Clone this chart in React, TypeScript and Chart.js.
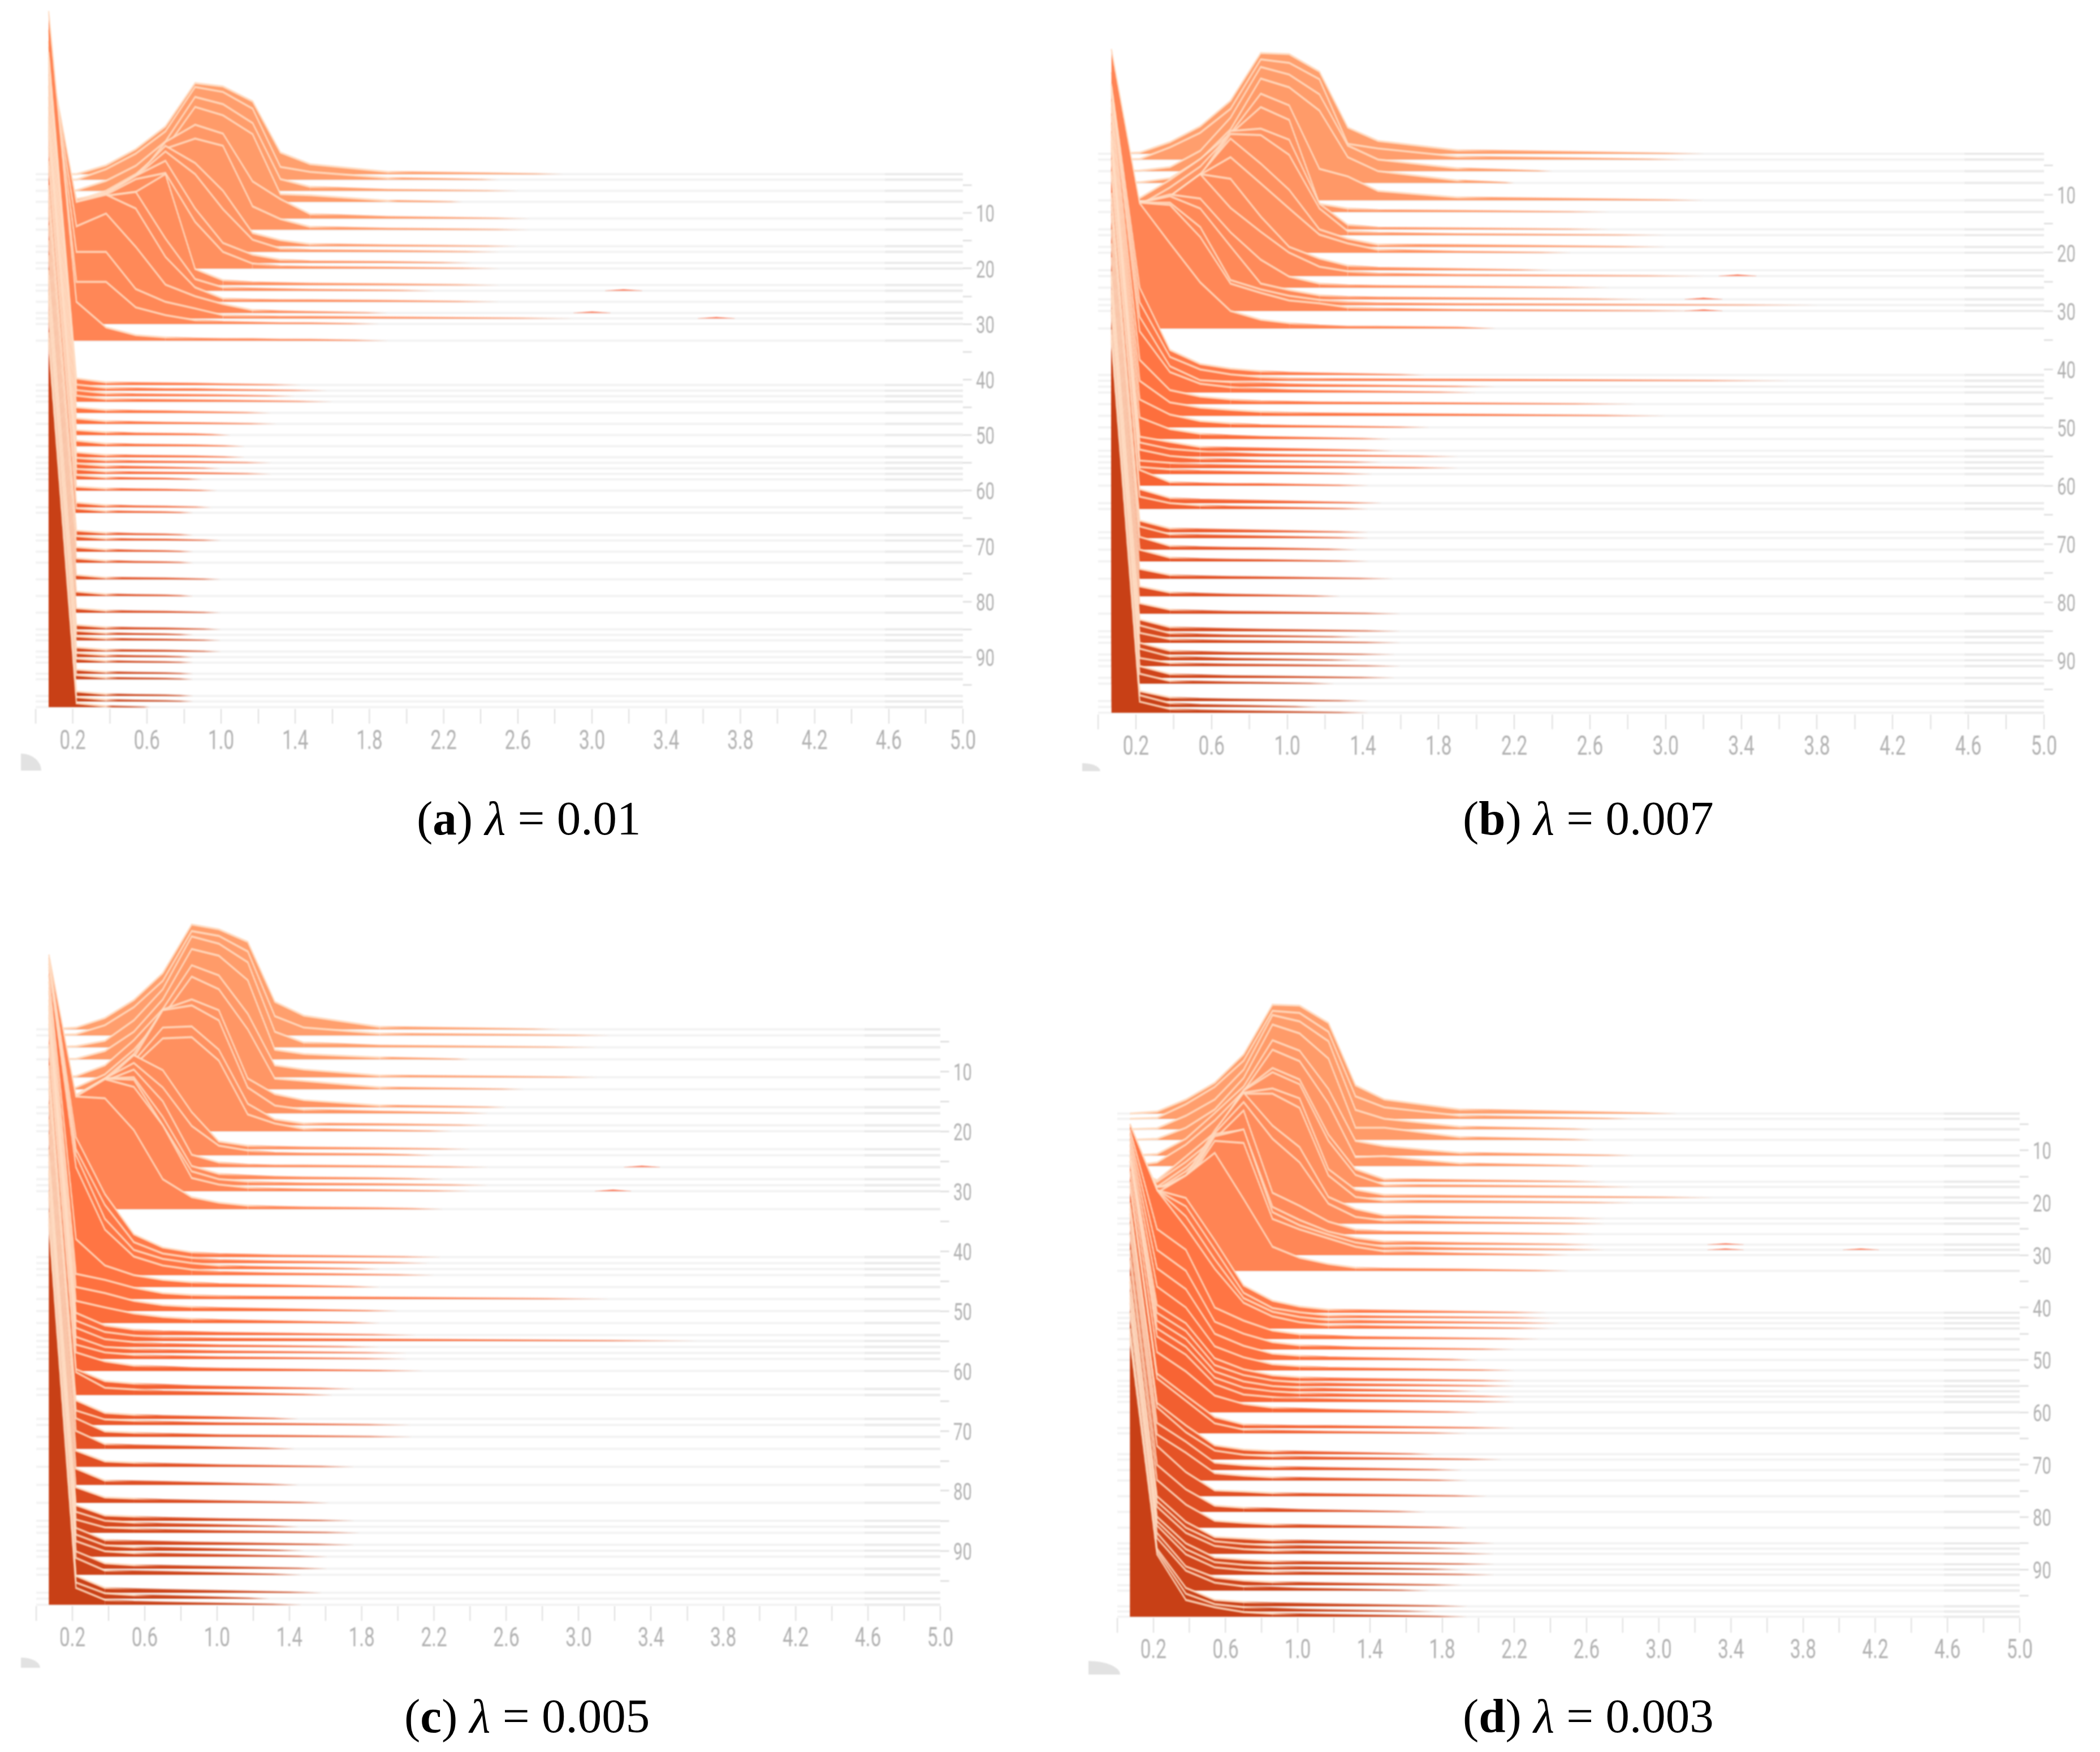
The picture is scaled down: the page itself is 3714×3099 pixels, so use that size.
import React, { useEffect, useRef } from "react";
import { Chart, registerables } from "chart.js";

Chart.register(...registerables);

// Histogram steps that hold a ridge (shared by the four panels)
const STEPS = [3,4,6,8,11,13,16,17,19,20,23,24,26,28,29,30,33,41,42,43,44,46,48,50,52,54,55,56,57,58,60,63,64,68,69,71,73,76,79,82,85,86,87,89,90,91,93,94,97,98,99];
// Histogram bin positions (weight value)
const BINS = [0.07,0.22,0.38,0.54,0.70,0.86,1.01,1.17,1.32,1.48,1.9];
const STEP_TICKS = [5,10,15,20,25,30,35,40,45,50,55,60,65,70,75,80,85,90,95];

// ---- panel (a) lambda = 0.01 : ridge heights per bin, and where each tail ends
const HEIGHTS_A = [
[0,0,1.6,4.5,8.6,16.4,15.8,13.1,3.9,1.8,.4],[0,0,1.9,4.7,8.7,16.7,15.8,12.8,2.3,1.4,.3],[0,.1,1.8,4.5,8.9,16.9,15.6,12.2,2.1,.7,.2],[0,.2,2,5,9.6,17.1,15.6,12.2,1.4,1.2,.2],
[0,.5,2.8,7,13.8,16.9,15.3,6.7,3.5,.8,.3],[0,1,3.8,9,14.6,16.4,15.1,4.2,1.9,.5,.2],[20,8.4,9.7,12.7,18.1,15,10,2.4,1.1,.4,.2],[22,9.4,10.4,13.6,18.1,14,7.7,2.2,.6,.3,.2],
[30,11.5,12.5,15.7,18.4,9.8,3.6,1.5,.6,.3,.2],[33,12.5,13.3,16.1,17.2,8.4,3,.9,.4,.3,.2],[38,15,16,16.8,20,2.9,.9,.5,.4,.3,.2],[42,16,17.1,17.8,9.4,2.1,.6,.4,.3,.2,.1],
[45,18,19.3,16.8,8.1,2.6,.6,.4,.3,.3,.2],[48,15.6,17.9,11.9,5.1,3,1.6,.5,.3,.2,.1],[50,12,12,5.3,3,1.8,.6,.4,.3,.3,.2],[53,7.6,7.6,3,1.6,.7,.4,.3,.2,.2,.1],[59.4,7,2.4,1,.6,.4,.3,.3,.2,.2,.1],
[60,1.2,.5,.4,.35,.3,.2],[60.1,1.1,.5,.4,.3,.3,.2],[60.2,1.1,.5,.35,.3,.25,.2],[60.3,1.1,.5,.4,.35,.3,.25],[60.6,1,.5,.35,.3,.2],[60.8,1,.5,.35,.25,.2],[61,.9,.5,.3,.25,.2],[61.2,1,.45,.3,.25,.2],
[61.4,.9,.4,.3,.25,.2],[61.6,.9,.45,.3,.25,.2],[61.7,.9,.4,.3,.2],[61.8,.9,.4,.3,.25,.2],[61.9,.8,.35,.25,.2],[62,.7,.35,.25,.2],[62.4,.85,.35,.2,.15],[62.5,.8,.3,.2,.15],
[63,.8,.35,.2,.15],[63.1,.8,.35,.25,.2],[63.3,.8,.35,.2,.15],[63.5,.8,.35,.2,.15],[63.8,.8,.3,.25,.2],[64.1,.8,.3,.2,.15],[64.4,.8,.35,.25,.2],[64.7,.8,.35,.25,.2],[64.8,.75,.3,.2,.15],[64.9,.75,.35,.25,.2],
[65,.75,.3,.25,.2],[65.1,.75,.3,.2,.15],[65.2,.75,.3,.2,.15],[65.3,.75,.3,.2,.15],[65.4,.75,.3,.2,.15],[65.5,.8,.3,.2,.15],[65.5,.8,.3,.2,.15],[65.6,.7,.15]
];
const ENDS_A = [2.84,2.5,2.6,2.3,2.66,2.66,2.6,2.5,2.35,2.5,2.5,2.15,2.5,1.9,2.9,1.85,1.9,1.43,1.57,1.4,1.6,1.27,1.3,1.05,1.13,1.13,1.27,1,1.27,.9,.98,.95,.85,.85,1,.85,.85,1,.85,1,1,.85,1,1,.85,.85,.85,.85,.85,.85,.62];
const BUMPS_A = [[24,3.17],[28,3],[29,3.67]];

// ---- panel (b) lambda = 0.007
const HEIGHTS_B = [
[0,.2,2,4.7,9.1,17.3,17.1,14.1,4.5,2.2,.6],[0,.1,2.1,4.6,8.7,17.2,16.6,13.8,2.7,1.9,.5],[0,.1,.7,3.5,9.2,17.9,16.6,13.2,4.4,2,.5],[0,.1,.8,4,9.2,17.9,16.4,12.4,4.4,2,.4],
[0,.4,3.5,7.1,11.5,18.3,16.3,5.4,4.1,1.6,.5],[0,1.2,4.2,7.8,13.4,18,15.8,1.4,.6,.3,.2],[10,4,5.6,9.2,16.9,17.3,15.4,4.4,.8,.3,.2],[12,5,6,9.8,17.4,17.2,13.8,4.6,.7,.4,.2],
[15,7.2,8.6,12.5,18.6,14.3,9.8,3,1.4,.4,.3],[18,8.2,8.9,13.4,16.4,11.9,7.6,3.1,1.6,.5,.2],[22,11.4,12.7,16.5,15.7,9.2,4,2,.8,.4,.2],[25,12.6,13.7,17.5,11.7,7.6,4,1.6,.8,.4,.2],
[30,14.6,16,15.3,9.5,4.8,1.9,.7,.4,.3,.2],[35,16.6,17.7,15.6,9.1,2.7,1.6,.7,.4,.3,.2],[38,17.6,17.6,13.4,4.3,2.7,1.6,.9,.5,.3,.2],[41,18.6,18.2,12.7,4.7,3.1,1.8,1.3,.6,.4,.2],[48,21.5,14.6,7.9,3,1.5,.9,.5,.3,.3,.2],
[50,15,4.3,1.9,1.1,.65,.4,.3],[50.5,13.5,4.1,1.95,1.1,.65,.4,.3],[51,12,3.5,1.1,.8,.6,.4,.3],[51.5,10.5,3.5,1.5,.9,.6,.4,.3],[52,7.6,2.4,1.3,.8,.5,.4,.3],[53,6,2.3,1.4,1,.7,.5,.4],[53.5,4.8,2.2,1.1,.7,.4,.3],[54,3.7,1.7,.9,.6,.4,.3],
[54.5,2.4,1.5,.65,.5,.4,.3],[55,2.4,1.3,.9,.6,.4,.3],[55.2,2.2,1.1,.65,.5,.3],[55.5,1.3,.9,.6,.5,.4],[55.7,1.2,.8,.5,.4,.3],[56,2.7,.6,.4,.3,.3],[57,2.4,.9,.6,.5,.4],[57.3,2.1,1,.6,.4,.3],
[58.3,2,.65,.5,.4,.3],[58.5,2,.65,.5,.4,.3],[59,2.2,.65,.45,.35,.3],[59.4,2,.65,.4,.3,.25],[60,1.7,.65,.45,.35,.3],[60.6,1.7,.65,.45,.3],[61.2,1.8,.7,.5,.35,.3],[61.8,2,.7,.5,.4,.3],[62,2,.65,.45,.3],[62.2,1.7,.65,.45,.35,.3],
[62.6,2,.65,.45,.3,.25],[62.8,2,.65,.45,.3],[63,1.4,.55,.4,.3,.25],[63.3,2,.65,.45,.3,.25],[63.4,1.7,.45,.35,.25],[63.8,1.7,.65,.4,.3],[63.9,2,.65,.35,.25],[64,1.9,.65,.4,.3]
];
const ENDS_B = [3.2,3.1,2.4,2.2,3.2,2.7,2.7,3,3,2.5,2.4,3.2,2.7,2.9,3.8,3.2,2.1,1.73,3.65,2.1,2,2.84,3,1.75,1.55,1.56,1.9,1.5,1.9,1.45,1.43,1.5,1.43,1.43,1.43,1.37,1.43,1.56,1.28,1.6,1.6,1.39,1.6,1.57,1.39,1.6,1.57,1.25,1.43,1.16,1.43];
const BUMPS_B = [[24,3.38],[28,3.2],[30,3.2]];

// ---- panel (c) lambda = 0.005
const HEIGHTS_C = [
[0,.3,1.9,4.9,9.4,17.5,16.7,14.6,4.6,2.3,.4],[0,.2,1.7,4.7,9.1,17.4,16.6,14,3.2,1.3,.3],[0,.2,1.1,4.5,9.7,18.5,17.3,14.2,2.6,.8,.3],[0,.1,1.4,4.6,10,18.4,17.3,13.2,1.6,.9,.3],
[0,.2,2,6.2,11.4,18.7,17,10.6,2,1.3,.3],[0,.3,2.5,6.6,12.2,18.8,16.7,10,1.8,1.4,.3],[15,2,4.8,8.9,16.3,18,16.2,4.8,2.2,1.2,.3],[18,2.8,5.4,9.3,17.2,18,15.5,4.3,1.3,.6,.3],
[22,4.7,7,10.7,16.3,16.5,12.6,3.6,1,.3,.2],[24,5.8,7.6,11,15.5,15.7,11.8,2.8,1.3,.4,.2],[28,9,11.4,15.7,13.2,6.2,1.3,.6,.4,.3,.2],[30,10,12.8,15.4,11.3,4.9,1.6,.8,.4,.3,.2],
[32,11.8,14.4,16.3,11,2.1,.8,.4,.3,.3,.2],[35,13.8,16.8,17,10.4,2.2,.9,.6,.4,.3,.2],[37,14.8,17.8,17.6,10,2.3,1,.6,.4,.3,.2],[39,15.8,18.7,17.4,11,2.2,1.1,.6,.4,.3,.2],[42.5,18.8,18.5,13.2,5,2,1.1,.6,.4,.3,.2],
[50,20,10.5,3.8,1.6,.8,.5,.4,.3],[50.5,19,9.7,3.5,1.6,.9,.5,.4,.3],[51,19,8.4,3.2,1.7,1,.6,.4,.3],[51.5,18,7.6,3.1,1.6,.9,.5,.4,.3],[52,8,3.6,2,1.2,.8,.5,.4],[53,4.2,3.2,1.9,1,.7,.5,.4],[53.5,4,3,1.7,1,.7,.5],[54,3.7,2.6,1.6,1,.7,.5],
[55,3.7,1.6,.9,.6,.5,.4],[55.5,3.4,1.5,.9,.6,.5,.4],[55.5,3.2,1.3,.8,.5,.4,.3],[56,2.7,1,.7,.5,.4,.3],[56,2.4,1.1,.7,.5,.4,.3],[57,3.1,1.6,.9,.7,.5,.4],[57.5,3.3,1.3,.9,.7,.5,.4],[58,3.8,1.2,.9,.6,.5],
[59,3.1,1,.7,.5,.4,.3],[59,2.4,.9,.7,.5,.4,.3],[59.5,3.1,.9,.7,.5,.4,.3],[60,3,.8,.6,.5,.4],[60.5,2.7,.9,.7,.5,.4,.3],[61,2.7,.7,.6,.5,.4],[61.5,2.6,.9,.7,.5,.4,.3],[62,2.6,.9,.7,.5,.4,.3],[62,2.5,1,.7,.5,.4],[62,2.2,.9,.7,.5,.4,.3],
[62.5,2.8,.8,.6,.5,.4],[63,2.7,.9,.6,.5,.4],[63,2.6,.9,.6,.5,.4],[63,2.9,.9,.6,.5,.4],[63,2.8,.7,.6,.5,.4],[63.5,2.8,.8,.6,.5,.4],[63.5,2.7,.9,.6,.5],[63.6,2.8,.8,.5,.4,.3]
];
const ENDS_C = [2.9,3.17,3.1,2.4,3.1,2.7,2.6,2.5,2.5,2.3,2.4,2.2,2.5,2.25,2.5,2.4,2.25,2.24,2.17,1.9,2.2,1.9,3.17,2,1.9,2.1,3.65,1.9,2.05,2.05,2.14,1.76,1.64,1.45,2.07,2.08,1.43,1.76,1.45,1.62,1.76,1.45,1.79,1.76,1.48,1.61,1.61,1.47,1.58,1.29,1.47];
const BUMPS_C = [[26,3.35],[30,3.19]];

// ---- panel (d) lambda = 0.003
const HEIGHTS_D = [
[0,.4,2.7,5.9,11.3,20.8,20.6,17.3,5.4,2.7,.8],[0,.2,2.8,6.1,11.1,20.6,20.2,16.6,4.3,2.2,.6],[0,.2,2.6,5.7,11.4,21.8,20.6,16.8,3.7,2,.5],[0,.2,2.3,5.8,11.8,22,20.3,15.5,2.3,2.3,.5],
[0,.3,3.2,8.1,13.2,22,20,12.7,2.8,1.8,.5],[0,.7,4.1,8.7,14.3,22.2,20,11.9,1.7,1.9,.5],[2.5,.3,4.8,9.4,17.5,21.7,19.5,9,2.4,.5,.3],[3,1,4.8,9.3,18.4,21.9,19.6,8.8,2.3,.4,.3],
[4,2,5.8,10.8,20,20.8,18.9,5.4,1.5,.5,.3],[5,2.5,6,11.3,20.8,20.8,18.1,5.2,1.1,.4,.3],[9,5.5,8.2,16.8,24,17.7,13.6,4.1,1.8,.6,.3],[11,6.5,8.7,17.3,23.2,16.2,11.7,3.8,1.3,.6,.3],
[15,8.7,10.4,18.2,23.6,7.9,5.4,2.4,.9,.5,.3],[20,10.8,12,21.1,21.9,7.2,4.7,2.5,1.3,.6,.3],[22,12,12.6,21.7,23,7.2,4.7,2.9,1.4,.6,.3],[24,13,13.5,21.8,21.4,6.9,4.9,3.2,1.6,.7,.3],[28,14.9,18.2,22.5,13.7,4.6,2.5,1.3,.6,.4,.3],
[36,23.4,21.9,13.8,5.2,2.3,1.2,.6,.5,.4],[37,24.4,21.3,13.1,4.8,1.9,1.1,.5,.4,.3],[38,25.4,20.4,12.2,4.8,2.2,1.2,.6,.5,.4],[39,26.4,19.3,11.4,4.9,2.3,1.2,.6,.5,.4],[40,21,17,6,3.5,1.6,.9,.6,.4],[41,19,15,5.3,3,1.4,.8,.6,.4],[42,17.5,13.5,5,2.7,1.2,.8,.5,.4],[43,16,12,4.6,2.5,1.2,.8,.5,.4],
[44,14.5,11,4.3,2.2,1.1,.7,.5,.4],[44,14,10.5,4,2.1,1.1,.7,.5,.4],[45,13.5,10,3.8,1.9,1,.7,.5,.4],[45,13,9.5,3.6,1.7,1,.7,.5,.4],[46,12.5,9,3.4,1.4,.9,.6,.5,.4],[46,11.5,7.8,3.2,1.6,.9,.7,.5,.4],[47,10.4,6.2,2.1,.7,.5,.4,.4],[47,10.5,6.2,1.9,.7,.5,.4,.3],
[48,9.8,5.5,1.7,.9,.6,.5,.4],[48,10,5.2,1.7,.9,.6,.5,.4],[49,9,5.4,1.4,.9,.6,.5,.4],[49,8.8,5.3,1.4,.9,.6,.5,.4],[50,9.6,4.6,1.1,.9,.6,.5,.4],[50,9,4.3,1.2,.8,.6,.4,.3],[51,9.1,4.4,1.3,.9,.6,.5,.4],[51,9,4.1,1.2,.9,.6,.5,.4],[51,9,4,1.4,.9,.6,.5,.4],[52,9,4,1.5,.9,.6,.5,.4],
[52,9.1,4,1.3,.9,.6,.5,.4],[52,9.2,3.9,1.4,.9,.6,.5,.4],[52,9.4,3.9,1.4,.9,.6,.5,.4],[52,10,3.6,1.5,.9,.6,.5,.4],[53,10,3.8,1.5,.8,.6,.4,.3],[53,11,3.5,1.2,.8,.6,.5,.4],[53,11.5,3.4,1.4,.8,.6,.4,.3],[53,11.9,3.2,1.8,.9,.6,.5,.4]
];
const ENDS_D = [3.1,2.86,2.64,2.64,2.86,2.64,2.7,2.86,3.3,2.86,2.7,2.7,2.64,2.64,2.7,2.5,2.5,2.38,2.4,2.45,2.4,2.34,2.2,2,2.2,2.2,2.2,2,2.2,2.2,2,2.2,1.94,1.76,2.13,1.91,1.94,2.05,1.71,1.94,2.09,1.91,2.09,2.09,1.91,2.09,1.91,1.73,1.94,1.76,1.94];
const BUMPS_D = [[28,3.37],[29,3.37],[29,4.12]];

const LAMBDA_LABELS = ["0.01", "0.007", "0.005", "0.003"];
const PANEL_KEYS = ["a", "b", "c", "d"];

// colour ramp of the ridges, by step
const RAMP_STEPS = [0, 33, 45, 60, 75, 99];
const RAMP_RGB = [[255,162,112],[255,132,84],[255,116,66],[248,100,52],[226,80,36],[200,64,22]];
function stepColor(s: number, alpha = 1) {
  let i = 0;
  while (i < RAMP_STEPS.length - 2 && s > RAMP_STEPS[i + 1]) i++;
  const t = (s - RAMP_STEPS[i]) / (RAMP_STEPS[i + 1] - RAMP_STEPS[i]);
  const c = RAMP_RGB[i].map((v, k) => Math.round(v + (RAMP_RGB[i + 1][k] - v) * t));
  return `rgba(${c[0]},${c[1]},${c[2]},${alpha})`;
}

const TICK_FONT = "Roboto, sans-serif";
const SQUEEZE = 0.68; // the tick text and marks of the reference are horizontally condensed
const PALE = "rgba(255,222,198,0.8)";

function buildDatasets(heights: number[][], ends: number[], bumps: number[][]) {
  const sets: any[] = [];
  const grey: any[] = [];
  const greyRight: any[] = [];
  STEPS.forEach((s) => {
    grey.push({ x: 0, y: s }, { x: 5, y: s }, { x: 5, y: null });
    greyRight.push({ x: 4.58, y: s }, { x: 5, y: s }, { x: 5, y: null });
  });
  sets.push({ data: grey, borderColor: "#f3f3f3", borderWidth: 4, pointRadius: 0, fill: false, order: 3000, spanGaps: false });
  sets.push({ data: greyRight, borderColor: "#ebebeb", borderWidth: 4, pointRadius: 0, fill: false, order: 2999, spanGaps: false });
  bumps.forEach(([s, x]) => {
    sets.push({
      data: [{ x: x - 0.1, y: s }, { x, y: s - 0.25 }, { x: x + 0.1, y: s }],
      borderColor: "rgba(255,150,120,0.5)", borderWidth: 1, pointRadius: 0,
      backgroundColor: "rgb(250,120,90)", fill: { value: s }, order: 2000,
    });
  });
  STEPS.forEach((s, i) => {
    const pts = heights[i]
      .map((h, k) => ({ x: BINS[k], y: s - h }))
      .filter((p) => p.x < ends[i]);
    pts.push({ x: ends[i], y: s });
    const lastIndex = pts.length - 1;
    let tailGradient: any = null;
    sets.push({
      data: pts,
      borderColor: PALE,
      borderWidth: 4,
      borderJoinStyle: "miter",
      tension: 0,
      pointRadius: 0,
      backgroundColor: stepColor(s),
      fill: { value: s },
      order: 200 - s,
      segment: {
        borderColor: (ctx: any) => {
          const h0 = s - ctx.p0.parsed.y;
          const h1 = s - ctx.p1.parsed.y;
          const inTail = ctx.p1DataIndex === lastIndex || (h0 < 0.9 && h1 < 0.9 && ctx.p0.parsed.x > 0.3);
          if (!inTail) return undefined;
          if (!tailGradient) {
            const xs = ctx.chart.scales.x;
            const g = ctx.chart.ctx.createLinearGradient(xs.getPixelForValue(ctx.p0.parsed.x), 0, xs.getPixelForValue(ends[i]), 0);
            g.addColorStop(0, PALE);
            g.addColorStop(0.14, stepColor(s, 0.58));
            g.addColorStop(0.55, stepColor(s, 0.46));
            g.addColorStop(0.85, stepColor(s, 0.28));
            g.addColorStop(1, "rgba(255,226,210,0.05)");
            tailGradient = g;
          }
          return tailGradient;
        },
      },
    });
  });
  return sets;
}

type PanelProps = {
  heights: number[][]; ends: number[]; bumps: number[][];
  xL: number; xR: number; y0: number; k: number; yTop: number; yBot: number;
};

function Panel({ heights, ends, bumps, xL, xR, y0, k, yTop, yBot }: PanelProps) {
  const ref = useRef<HTMLCanvasElement>(null);
  const padL = 30, axisR = 80, axisB = 100;
  useEffect(() => {
    const chart = new Chart(ref.current as HTMLCanvasElement, {
      type: "line",
      data: { datasets: buildDatasets(heights, ends, bumps) },
      options: {
        animation: false,
        responsive: false,
        devicePixelRatio: 1,
        layout: { autoPadding: false, padding: { left: padL / SQUEEZE, right: 0, top: 0, bottom: 0 } },
        plugins: { legend: { display: false }, tooltip: { enabled: false } },
        scales: {
          x: {
            type: "linear", min: 0, max: 5,
            ticks: {
              stepSize: 0.2, autoSkip: false, maxRotation: 0, padding: 3, color: "#b2b2b2",
              font: { family: TICK_FONT, size: 49 },
              callback: (v: any) => (Math.round(Number(v) * 10) % 4 === 2 ? Number(v).toFixed(1) : ""),
            },
            grid: { drawOnChartArea: false, drawTicks: true, tickLength: 26, tickColor: "#dedede", tickWidth: 3 },
            border: { display: false },
            afterFit: (s: any) => { s.height = axisB; s.paddingLeft = 0; s.paddingRight = 0; },
          },
          y: {
            type: "linear", position: "right", reverse: true,
            min: (yTop - y0) / k, max: (yBot - y0) / k,
            afterBuildTicks: (s: any) => { s.ticks = STEP_TICKS.map((value) => ({ value })); },
            ticks: {
              autoSkip: false, padding: 11, color: "#b2b2b2", labelOffset: 5,
              font: { family: TICK_FONT, size: 43 },
              callback: (v: any) => (Number(v) % 10 === 0 ? String(v) : ""),
            },
            grid: { drawOnChartArea: false, drawTicks: true, tickLength: 23, tickColor: "#e2e2e2", tickWidth: 3 },
            border: { display: false },
            afterFit: (s: any) => { s.width = axisR / SQUEEZE; s.paddingTop = 0; s.paddingBottom = 0; },
          },
        },
      } as any,
    });
    return () => chart.destroy();
  }, []);
  const w = xR - xL + padL + axisR;
  const h = yBot - yTop + axisB;
  return (
    <canvas
      ref={ref}
      width={Math.round(w / SQUEEZE)}
      height={h}
      style={{ position: "absolute", left: xL - padL, top: yTop, width: w, height: h, filter: "blur(1px)" }}
    />
  );
}

function Caption({ i, left, baseline }: { i: number; left: number; baseline: number }) {
  const size = 85;
  return (
    <div style={{ position: "absolute", left, top: baseline - size * 0.95, fontFamily: '"Liberation Serif", serif', fontSize: size, lineHeight: `${size * 1.15}px`, color: "#000", whiteSpace: "pre" }}>
      (<b>{PANEL_KEYS[i]}</b>) <i>λ</i> = {LAMBDA_LABELS[i]}
    </div>
  );
}

function Blob({ left, top, w, h }: { left: number; top: number; w: number; h: number }) {
  return <div style={{ position: "absolute", left, top, width: w, height: h, background: "#e2e2e2", borderTopRightRadius: "100%", filter: "blur(1px)" }} />;
}

export default function App() {
  useEffect(() => { document.body.style.margin = "0"; }, []);
  return (
    <div style={{ position: "absolute", left: 0, top: 0, width: 3714, height: 3099, background: "#fff", overflow: "hidden" }}>
      <Panel heights={HEIGHTS_A} ends={ENDS_A} bumps={BUMPS_A} xL={63} xR={1703} y0={278.5} k={9.82} yTop={10} yBot={1254} />
      <Panel heights={HEIGHTS_B} ends={ENDS_B} bumps={BUMPS_B} xL={1942} xR={3615} y0={241} k={10.3} yTop={60} yBot={1264} />
      <Panel heights={HEIGHTS_C} ends={ENDS_C} bumps={BUMPS_C} xL={64} xR={1663} y0={1789} k={10.6} yTop={1620} yBot={2841} />
      <Panel heights={HEIGHTS_D} ends={ENDS_D} bumps={BUMPS_D} xL={1976} xR={3572} y0={1942} k={9.27} yTop={1760} yBot={2862} />
      <Blob left={37} top={1333} w={36} h={30} />
      <Blob left={1914} top={1350} w={32} h={14} />
      <Blob left={37} top={2932} w={34} h={18} />
      <Blob left={1925} top={2938} w={56} h={24} />
      <Caption i={0} left={737} baseline={1480} />
      <Caption i={1} left={2587} baseline={1480} />
      <Caption i={2} left={715} baseline={3068} />
      <Caption i={3} left={2587} baseline={3068} />
    </div>
  );
}
